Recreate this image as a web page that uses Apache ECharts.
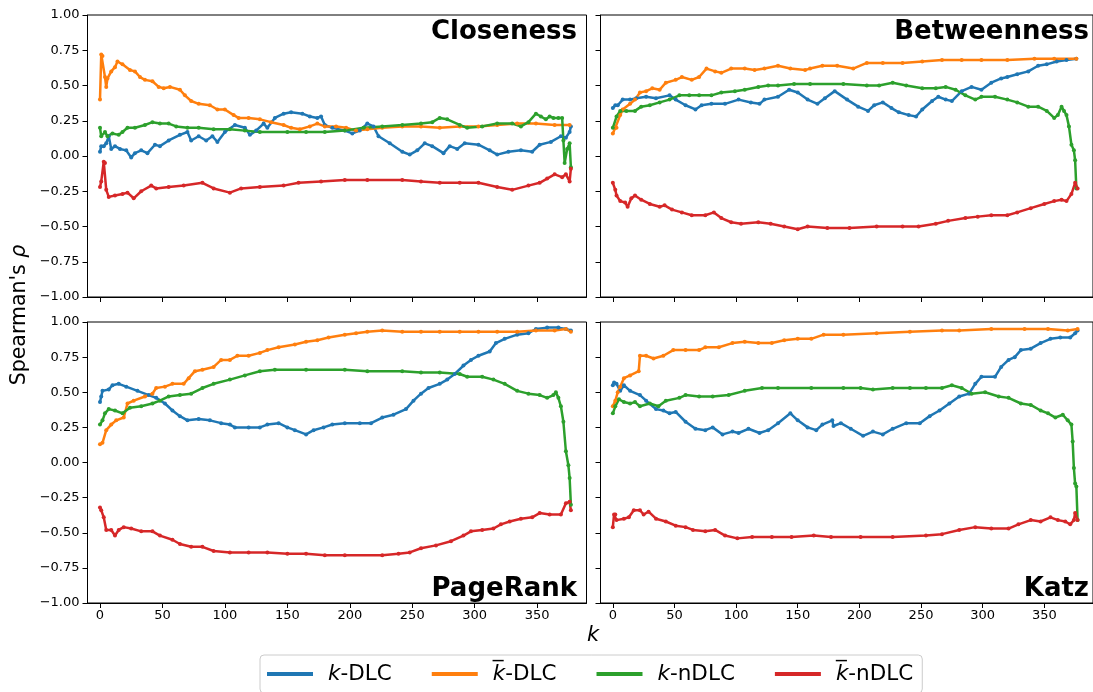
<!DOCTYPE html>
<html>
<head>
<meta charset="utf-8">
<script src="https://cdn.jsdelivr.net/npm/echarts@6/dist/echarts.min.js"></script>
<style>
  html, body { margin: 0; padding: 0; background: #fff; }
  #chart { width: 1093px; height: 692px; }
</style>
</head>
<body>
<div id="chart"></div>
<script>
// panel titles and legend names
const panels = ['Closeness', 'Betweenness', 'PageRank', 'Katz'];
const names = ['k-DLC', 'k\u0305-DLC', 'k-nDLC', 'k\u0305-nDLC'];
const colors = ['#1f77b4', '#ff7f0e', '#2ca02c', '#d62728'];
const xTicks = [0, 50, 100, 150, 200, 250, 300, 350];

// Closeness  [k, rho]
const closeKDLC = [[0,0.03],[1,0.07],[3,0.07],[5,0.09],[7,0.14],[9,0.05],[12,0.07],[16,0.05],[21,0.04],[25,-0.01],[28,0.02],[33,0.04],[38,0.02],[44,0.08],[48,0.07],[55,0.11],[64,0.15],[70,0.17],[73,0.11],[79,0.14],[85,0.11],[90,0.14],[94,0.10],[100,0.17],[108,0.22],[116,0.20],[120,0.15],[125,0.18],[131,0.23],[134,0.20],[140,0.27],[147,0.30],[153,0.31],[162,0.30],[168,0.28],[174,0.27],[177,0.28],[180,0.22],[186,0.20],[196,0.18],[202,0.16],[208,0.18],[214,0.23],[219,0.21],[223,0.14],[232,0.09],[242,0.03],[248,0.01],[254,0.04],[260,0.09],[266,0.07],[275,0.02],[280,0.07],[286,0.05],[292,0.09],[303,0.08],[312,0.04],[318,0.01],[327,0.03],[337,0.04],[346,0.03],[352,0.08],[361,0.10],[369,0.14],[373,0.13],[376,0.17],[377,0.21]];
const closeKbDLC = [[0,0.40],[1,0.72],[2,0.71],[4,0.56],[5,0.49],[6,0.55],[9,0.60],[12,0.63],[14,0.67],[18,0.65],[24,0.61],[28,0.60],[32,0.56],[36,0.54],[42,0.53],[47,0.49],[51,0.48],[56,0.49],[64,0.47],[68,0.43],[73,0.39],[79,0.37],[88,0.36],[94,0.33],[100,0.33],[107,0.29],[111,0.27],[119,0.27],[128,0.26],[137,0.24],[147,0.22],[153,0.20],[160,0.19],[168,0.21],[174,0.23],[180,0.21],[189,0.21],[197,0.20],[205,0.18],[214,0.19],[226,0.20],[242,0.21],[257,0.21],[272,0.20],[288,0.21],[303,0.21],[318,0.22],[334,0.23],[349,0.23],[364,0.22],[376,0.22]];
const closeKnDLC = [[0,0.20],[1,0.14],[4,0.17],[6,0.14],[10,0.16],[15,0.15],[18,0.17],[22,0.20],[28,0.20],[36,0.22],[42,0.24],[48,0.23],[55,0.23],[61,0.21],[70,0.20],[79,0.20],[91,0.19],[104,0.19],[116,0.18],[128,0.17],[150,0.17],[165,0.17],[180,0.17],[196,0.18],[211,0.20],[226,0.21],[242,0.22],[257,0.23],[266,0.24],[272,0.27],[278,0.26],[288,0.22],[294,0.20],[306,0.21],[318,0.23],[330,0.23],[337,0.21],[343,0.24],[349,0.30],[353,0.28],[357,0.26],[360,0.28],[363,0.27],[367,0.27],[370,0.27],[371,0.11],[372,-0.05],[374,0.05],[376,0.09],[377,-0.08]];
const closeKbnDLC = [[0,-0.22],[1,-0.18],[3,-0.04],[4,-0.05],[5,-0.24],[7,-0.29],[12,-0.28],[18,-0.27],[22,-0.26],[27,-0.30],[33,-0.25],[41,-0.21],[45,-0.23],[55,-0.22],[67,-0.21],[82,-0.19],[91,-0.23],[104,-0.26],[113,-0.23],[128,-0.22],[147,-0.21],[159,-0.19],[177,-0.18],[196,-0.17],[214,-0.17],[242,-0.17],[257,-0.18],[272,-0.19],[288,-0.19],[303,-0.19],[318,-0.22],[330,-0.24],[343,-0.21],[352,-0.19],[358,-0.16],[364,-0.13],[370,-0.15],[373,-0.13],[376,-0.18],[377,-0.09]];

// Betweenness
const betwKDLC = [[0,0.34],[2,0.36],[4,0.36],[8,0.40],[14,0.40],[19,0.41],[27,0.42],[35,0.41],[46,0.43],[51,0.40],[59,0.36],[67,0.33],[72,0.36],[80,0.37],[91,0.37],[102,0.40],[112,0.38],[119,0.37],[123,0.40],[134,0.42],[143,0.47],[150,0.45],[158,0.40],[166,0.37],[172,0.41],[180,0.46],[190,0.40],[199,0.35],[207,0.32],[212,0.36],[219,0.38],[226,0.34],[232,0.31],[240,0.29],[246,0.28],[251,0.33],[259,0.39],[264,0.42],[270,0.40],[275,0.39],[283,0.46],[291,0.49],[299,0.47],[307,0.52],[315,0.55],[320,0.56],[328,0.58],[337,0.60],[345,0.64],[352,0.65],[360,0.67],[368,0.68],[376,0.69]];
const betwKbDLC = [[0,0.16],[2,0.20],[3,0.20],[6,0.29],[8,0.33],[14,0.37],[18,0.40],[22,0.45],[27,0.46],[32,0.48],[38,0.47],[43,0.52],[51,0.54],[56,0.56],[64,0.54],[70,0.56],[76,0.62],[83,0.60],[88,0.59],[96,0.62],[107,0.62],[115,0.61],[123,0.62],[134,0.64],[144,0.62],[156,0.61],[160,0.62],[170,0.64],[182,0.64],[195,0.62],[206,0.66],[219,0.66],[235,0.66],[251,0.67],[267,0.68],[283,0.68],[299,0.68],[320,0.68],[342,0.69],[358,0.69],[376,0.69]];
const betwKnDLC = [[0,0.20],[3,0.28],[6,0.32],[11,0.32],[18,0.32],[23,0.35],[30,0.36],[38,0.38],[46,0.40],[54,0.43],[62,0.43],[70,0.43],[80,0.43],[88,0.45],[99,0.46],[107,0.47],[118,0.49],[126,0.50],[134,0.50],[147,0.51],[160,0.51],[187,0.51],[206,0.50],[216,0.50],[227,0.52],[238,0.50],[251,0.48],[262,0.48],[270,0.49],[278,0.47],[286,0.43],[294,0.40],[299,0.42],[310,0.42],[320,0.40],[328,0.38],[337,0.35],[345,0.35],[352,0.32],[358,0.27],[361,0.29],[364,0.35],[366,0.32],[368,0.29],[370,0.21],[372,0.08],[374,0.04],[375,-0.03],[376,-0.23]];
const betwKbnDLC = [[0,-0.19],[2,-0.24],[3,-0.28],[6,-0.32],[10,-0.33],[12,-0.36],[15,-0.30],[18,-0.28],[23,-0.31],[30,-0.34],[38,-0.36],[42,-0.35],[48,-0.38],[56,-0.40],[64,-0.42],[75,-0.42],[82,-0.40],[88,-0.44],[96,-0.47],[104,-0.48],[118,-0.47],[128,-0.48],[139,-0.50],[150,-0.52],[158,-0.50],[174,-0.51],[192,-0.51],[214,-0.50],[235,-0.50],[248,-0.50],[262,-0.48],[272,-0.46],[286,-0.44],[296,-0.43],[307,-0.42],[320,-0.42],[328,-0.40],[339,-0.37],[350,-0.34],[358,-0.32],[364,-0.31],[368,-0.32],[372,-0.27],[375,-0.19],[377,-0.23]];

// PageRank
const prKDLC = [[0,0.43],[1,0.47],[2,0.51],[7,0.52],[10,0.55],[15,0.56],[21,0.54],[30,0.51],[39,0.48],[45,0.46],[52,0.42],[58,0.37],[64,0.33],[70,0.30],[79,0.31],[88,0.30],[97,0.28],[104,0.27],[108,0.25],[119,0.25],[128,0.25],[134,0.27],[143,0.28],[150,0.25],[156,0.23],[165,0.20],[171,0.23],[179,0.25],[186,0.27],[196,0.28],[208,0.28],[217,0.28],[226,0.32],[235,0.34],[245,0.38],[251,0.44],[257,0.49],[263,0.53],[272,0.56],[278,0.59],[284,0.63],[291,0.69],[297,0.73],[303,0.76],[312,0.79],[317,0.85],[324,0.88],[334,0.91],[343,0.92],[349,0.95],[358,0.96],[367,0.96],[373,0.95],[377,0.94]];
const prKbDLC = [[0,0.13],[2,0.14],[5,0.23],[9,0.27],[13,0.30],[19,0.32],[22,0.42],[27,0.44],[36,0.47],[42,0.49],[45,0.53],[52,0.54],[58,0.56],[67,0.56],[71,0.60],[76,0.65],[82,0.66],[91,0.68],[97,0.73],[104,0.73],[110,0.76],[119,0.76],[128,0.78],[134,0.80],[143,0.82],[156,0.84],[165,0.86],[174,0.87],[183,0.89],[196,0.91],[205,0.92],[214,0.93],[226,0.94],[242,0.93],[257,0.93],[272,0.93],[288,0.93],[303,0.93],[318,0.93],[334,0.93],[349,0.94],[364,0.94],[373,0.95],[377,0.93]];
const prKnDLC = [[0,0.27],[2,0.30],[4,0.35],[7,0.38],[12,0.37],[18,0.35],[24,0.39],[33,0.40],[42,0.42],[48,0.44],[55,0.47],[64,0.48],[73,0.49],[82,0.53],[91,0.56],[104,0.59],[116,0.62],[128,0.65],[140,0.66],[165,0.66],[196,0.66],[214,0.65],[242,0.65],[257,0.64],[272,0.64],[288,0.63],[294,0.61],[306,0.61],[315,0.59],[324,0.56],[334,0.51],[343,0.49],[352,0.48],[358,0.46],[363,0.48],[365,0.50],[367,0.46],[369,0.40],[371,0.29],[373,0.08],[375,-0.02],[376,-0.11],[377,-0.30]];
const prKbnDLC = [[0,-0.32],[1,-0.34],[3,-0.39],[5,-0.48],[9,-0.48],[12,-0.52],[15,-0.48],[19,-0.46],[25,-0.47],[33,-0.49],[42,-0.49],[48,-0.52],[58,-0.55],[64,-0.58],[73,-0.60],[82,-0.60],[91,-0.63],[104,-0.64],[119,-0.64],[134,-0.64],[150,-0.65],[165,-0.65],[180,-0.66],[196,-0.66],[226,-0.66],[239,-0.65],[248,-0.64],[257,-0.61],[269,-0.59],[281,-0.56],[291,-0.52],[297,-0.49],[306,-0.48],[315,-0.47],[321,-0.44],[328,-0.42],[337,-0.40],[346,-0.39],[352,-0.36],[360,-0.37],[369,-0.37],[373,-0.29],[376,-0.28],[377,-0.34]];

// Katz
const katzKDLC = [[0,0.55],[1,0.57],[3,0.56],[6,0.51],[9,0.55],[14,0.51],[22,0.48],[27,0.44],[35,0.38],[41,0.37],[46,0.35],[51,0.36],[59,0.29],[67,0.24],[75,0.23],[81,0.25],[89,0.20],[97,0.22],[102,0.21],[110,0.24],[119,0.21],[126,0.23],[134,0.28],[144,0.35],[150,0.30],[158,0.25],[165,0.23],[170,0.27],[178,0.30],[179,0.26],[185,0.28],[193,0.24],[203,0.19],[211,0.22],[219,0.20],[227,0.24],[238,0.28],[249,0.28],[257,0.33],[265,0.37],[273,0.42],[281,0.47],[289,0.49],[294,0.56],[299,0.61],[310,0.61],[315,0.68],[321,0.73],[326,0.75],[331,0.80],[339,0.81],[347,0.85],[355,0.88],[363,0.89],[371,0.89],[375,0.92],[377,0.94]];
const katzKbDLC = [[0,0.40],[2,0.44],[4,0.50],[6,0.54],[9,0.60],[14,0.62],[21,0.65],[22,0.76],[27,0.76],[33,0.74],[41,0.76],[49,0.80],[59,0.80],[70,0.80],[75,0.82],[86,0.82],[97,0.85],[107,0.86],[118,0.85],[129,0.85],[139,0.87],[150,0.88],[161,0.88],[171,0.91],[187,0.91],[214,0.92],[241,0.93],[267,0.94],[281,0.94],[307,0.95],[334,0.95],[353,0.95],[369,0.94],[377,0.95]];
const katzKnDLC = [[0,0.35],[2,0.40],[5,0.45],[9,0.43],[14,0.42],[18,0.43],[22,0.40],[30,0.42],[37,0.40],[43,0.44],[54,0.46],[59,0.48],[70,0.47],[81,0.47],[94,0.48],[107,0.51],[121,0.53],[134,0.53],[161,0.53],[187,0.53],[201,0.53],[211,0.52],[227,0.53],[241,0.53],[254,0.53],[267,0.53],[275,0.55],[283,0.53],[291,0.49],[302,0.50],[313,0.47],[321,0.46],[331,0.42],[339,0.41],[347,0.37],[353,0.35],[359,0.32],[365,0.34],[369,0.30],[372,0.27],[373,0.15],[374,-0.04],[375,-0.15],[376,-0.17],[377,-0.41]];
const katzKbnDLC = [[0,-0.46],[1,-0.37],[2,-0.37],[3,-0.41],[9,-0.40],[13,-0.39],[17,-0.34],[22,-0.34],[25,-0.37],[29,-0.35],[35,-0.40],[43,-0.42],[51,-0.45],[59,-0.46],[65,-0.48],[75,-0.49],[83,-0.48],[91,-0.52],[101,-0.54],[113,-0.53],[129,-0.53],[145,-0.53],[163,-0.52],[177,-0.53],[201,-0.53],[227,-0.53],[254,-0.52],[267,-0.51],[281,-0.48],[294,-0.46],[307,-0.47],[321,-0.47],[329,-0.44],[339,-0.41],[347,-0.42],[355,-0.39],[361,-0.41],[367,-0.42],[371,-0.44],[374,-0.41],[375,-0.36],[377,-0.41]];

const panelData = [
  [closeKDLC, closeKbDLC, closeKnDLC, closeKbnDLC],
  [betwKDLC, betwKbDLC, betwKnDLC, betwKbnDLC],
  [prKDLC, prKbDLC, prKnDLC, prKbnDLC],
  [katzKDLC, katzKbDLC, katzKnDLC, katzKbnDLC],
];

const font = 'DejaVu Sans';
const chart = echarts.init(document.getElementById('chart'), null, { renderer: 'canvas' });

const gridPos = [
  { left: 87.5, top: 15, width: 499, height: 282 },
  { left: 600.5, top: 15, width: 499, height: 282 },
  { left: 87.5, top: 322, width: 499, height: 281 },
  { left: 600.5, top: 322, width: 499, height: 281 },
];

const fmtY = (v) => v.toFixed(2).replace('-', '\u2212');

const grids = gridPos.map((g) => ({ ...g, show: true, borderColor: '#000', borderWidth: 1, containLabel: false }));

const xAxes = gridPos.map((g, i) => ({
  gridIndex: i,
  type: 'value',
  min: -10,
  max: 389.5,
  splitLine: { show: false },
  axisLine: { show: true, onZero: false, lineStyle: { color: '#000', width: 1 } },
  axisTick: { show: true, length: 5, customValues: xTicks, lineStyle: { color: '#000' } },
  axisLabel: {
    show: i >= 2,
    customValues: xTicks,
    margin: 6,
    color: '#000',
    fontSize: 13,
    fontFamily: font,
  },
}));

const yAxes = gridPos.map((g, i) => ({
  gridIndex: i,
  type: 'value',
  min: -1,
  max: 1,
  interval: 0.25,
  splitLine: { show: false },
  axisLine: { show: true, onZero: false, lineStyle: { color: '#000', width: 1 } },
  axisTick: { show: true, length: 5, lineStyle: { color: '#000' } },
  axisLabel: {
    show: i % 2 === 0,
    margin: 8,
    color: '#000',
    fontSize: 13,
    fontFamily: font,
    formatter: fmtY,
  },
}));

const series = [];
panelData.forEach((sets, p) => {
  sets.forEach((data, s) => {
    series.push({
      name: names[s],
      type: 'line',
      xAxisIndex: p,
      yAxisIndex: p,
      data: data,
      symbol: 'circle',
      symbolSize: 4,
      showSymbol: true,
      lineStyle: { width: 2.5, color: colors[s] },
      itemStyle: { color: colors[s] },
      emphasis: { disabled: true },
      silent: true,
    });
  });
});

const titles = panels.map((t, i) => ({
  text: t,
  right: i % 2 === 0 ? 1093 - 577 : 4,
  top: i < 2 ? 19 : 576,
  padding: 0,
  textStyle: { fontFamily: font, fontWeight: 'bold', fontSize: 26, color: '#000' },
}));

const option = {
  animation: false,
  backgroundColor: '#fff',
  title: titles,
  grid: grids,
  xAxis: xAxes,
  yAxis: yAxes,
  legend: {
    left: 260,
    top: 655,
    icon: 'rect',
    itemWidth: 46,
    itemHeight: 4,
    itemGap: 40,
    padding: [8, 9, 8, 7],
    borderColor: '#ccc',
    borderWidth: 1,
    borderRadius: 4,
    backgroundColor: '#fff',
    data: names,
    selectedMode: false,
    formatter: (name) => {
      const i = name.indexOf('-');
      return '{sp|}{i|' + name.slice(0, i) + '}{n|' + name.slice(i) + '}';
    },
    textStyle: {
      fontFamily: font,
      fontSize: 21.5,
      color: '#000',
      rich: {
        sp: { width: 10 },
        i: { fontStyle: 'italic', fontSize: 21.5, fontFamily: font, color: '#000' },
        n: { fontSize: 21.5, fontFamily: font, color: '#000' },
      },
    },
  },
  graphic: [
    {
      type: 'text',
      x: 20,
      y: 315,
      rotation: Math.PI / 2,
      style: {
        text: "{n|Spearman's }{i|ρ}",
        align: 'center',
        verticalAlign: 'middle',
        rich: {
          n: { fontFamily: font, fontSize: 20.5, fill: '#000' },
          i: { fontFamily: font, fontSize: 20.5, fontStyle: 'italic', fill: '#000' },
        },
      },
    },
    {
      type: 'text',
      x: 593,
      y: 636,
      style: {
        text: 'k',
        align: 'center',
        verticalAlign: 'middle',
        fontFamily: font,
        fontSize: 21,
        fontStyle: 'italic',
        fill: '#000',
      },
    },
  ],
  series: series,
};

chart.setOption(option);
</script>
</body>
</html>
